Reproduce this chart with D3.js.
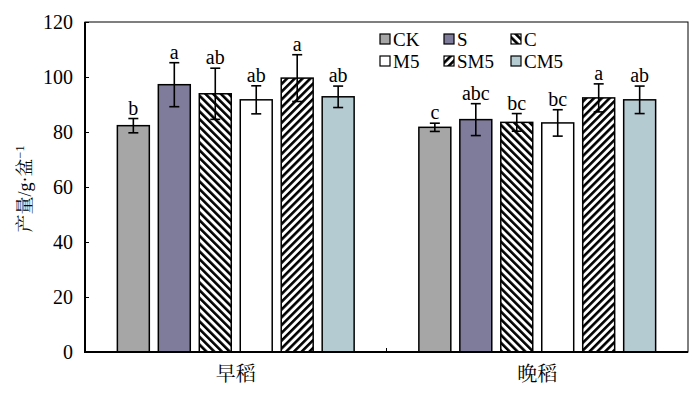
<!DOCTYPE html>
<meta charset="utf-8">
<script src="https://d3js.org/d3.v7.min.js"></script>
<body style="margin:0;background:#fff">
<svg width="700" height="393"></svg>
<script>
  // data
  var seasons = ['早稻', '晚稻'];
  var treatments = ['CK', 'S', 'C', 'M5', 'SM5', 'CM5'];
  var early = [82.3, 97.2, 93.9, 91.7, 99.6, 92.8];
  var earlyErr = [2.6, 8.0, 9.3, 5.1, 8.5, 3.9];
  var earlyLetters = ['b', 'a', 'ab', 'ab', 'a', 'ab'];
  var late = [81.7, 84.5, 83.5, 83.3, 92.4, 91.7];
  var lateErr = [1.5, 5.8, 3.2, 4.8, 5.1, 5.0];
  var lateLetters = ['c', 'abc', 'bc', 'bc', 'a', 'ab'];
  var yTicks = [0, 20, 40, 60, 80, 100, 120];

  var fills = {CK: '#a6a6a6', S: '#7f7b9b', C: 'url(#hatchC)', M5: '#ffffff', SM5: 'url(#hatchSM)', CM5: '#b5cbd2'};

  var margin = {top: 22, right: 12, bottom: 41, left: 85},
    width = 700 - margin.left - margin.right,
    height = 393 - margin.top - margin.bottom;

  var svg = d3.select('svg');
  var defs = svg.append('defs');

  function hatch(id, angle) {
    var s = 5.5;
    var p = defs.append('pattern')
      .attr('id', id)
      .attr('patternUnits', 'userSpaceOnUse')
      .attr('width', s).attr('height', s)
      .attr('patternTransform', 'rotate(' + angle + ')');
    p.append('rect').attr('width', s).attr('height', s).attr('fill', '#fff');
    p.append('rect').attr('x', 0).attr('width', 2.6).attr('height', s).attr('fill', '#000');
  }
  hatch('hatchC', -45);
  hatch('hatchSM', 45);

  var g = svg.append('g').attr('transform', 'translate(' + margin.left + ',' + margin.top + ')');

  var x0 = d3.scaleBand().domain(seasons).range([0, width]);
  var x1 = d3.scaleBand().domain(treatments).range([0, x0.bandwidth()])
    .paddingInner(0.22).paddingOuter(0.79);
  var y = d3.scaleLinear().domain([0, 120]).range([height, 0]);

  var rows = [];
  seasons.forEach(function(s, i) {
    var vals = i === 0 ? early : late,
      errs = i === 0 ? earlyErr : lateErr,
      lets = i === 0 ? earlyLetters : lateLetters;
    treatments.forEach(function(t, j) {
      rows.push({season: s, t: t, v: vals[j], e: errs[j], l: lets[j]});
    });
  });

  var font = '"Liberation Serif", "Times New Roman", serif';
  var cjk = '"Noto Serif CJK SC", "Noto Sans CJK SC", serif';

  // bars
  g.selectAll('rect.bar').data(rows).enter().append('rect')
    .attr('class', 'bar')
    .attr('x', function(d) { return x0(d.season) + x1(d.t); })
    .attr('y', function(d) { return y(d.v); })
    .attr('width', x1.bandwidth())
    .attr('height', function(d) { return y(0) - y(d.v); })
    .attr('fill', function(d) { return fills[d.t]; })
    .attr('stroke', '#000').attr('stroke-width', 1.5);

  // error bars
  var eb = g.selectAll('g.err').data(rows).enter().append('g')
    .attr('transform', function(d) { return 'translate(' + (x0(d.season) + x1(d.t) + x1.bandwidth() / 2) + ',0)'; });
  eb.append('line')
    .attr('y1', function(d) { return y(d.v - d.e); })
    .attr('y2', function(d) { return y(d.v + d.e); });
  eb.append('line').attr('x1', -5).attr('x2', 5)
    .attr('y1', function(d) { return y(d.v + d.e); })
    .attr('y2', function(d) { return y(d.v + d.e); });
  eb.append('line').attr('x1', -5).attr('x2', 5)
    .attr('y1', function(d) { return y(d.v - d.e); })
    .attr('y2', function(d) { return y(d.v - d.e); });
  eb.selectAll('line').attr('stroke', '#000').attr('stroke-width', 1.6);

  eb.append('text')
    .attr('y', function(d) { return y(d.v + d.e) - 4; })
    .attr('text-anchor', 'middle')
    .attr('fill', '#000')
    .style('font-family', font).style('font-size', '20px')
    .text(function(d) { return d.l; });

  // axes
  var yAxis = g.append('g')
    .call(d3.axisLeft(y).tickValues(yTicks).tickSize(-4).tickPadding(12));
  yAxis.select('.domain').remove();
  yAxis.selectAll('text').style('font-family', font).style('font-size', '20px').attr('fill', '#000');
  yAxis.selectAll('line').attr('stroke-width', 1);

  var xAxis = g.append('g').attr('transform', 'translate(0,' + height + ')')
    .call(d3.axisBottom(x0).tickSize(0).tickPadding(15));
  xAxis.select('.domain').remove();
  xAxis.selectAll('text').style('font-family', cjk).style('font-size', '20px').attr('fill', '#000');

  // group separator tick
  g.append('line')
    .attr('x1', x0(seasons[1])).attr('x2', x0(seasons[1]))
    .attr('y1', height).attr('y2', height - 4)
    .attr('stroke', '#000').attr('stroke-width', 1);

  // frame
  g.append('rect').attr('width', width).attr('height', height)
    .attr('fill', 'none').attr('stroke', '#000').attr('stroke-width', 1);
  g.append('path')
    .attr('d', 'M0,0V' + height + 'H' + width)
    .attr('fill', 'none').attr('stroke', '#000').attr('stroke-width', 2);

  // y title
  var yt = svg.append('text')
    .attr('transform', 'translate(31,189) rotate(-90)')
    .attr('text-anchor', 'middle')
    .attr('fill', '#000')
    .style('font-size', '18px');
  yt.append('tspan').style('font-family', cjk).text('产量');
  yt.append('tspan').style('font-family', font).text('/g·');
  yt.append('tspan').style('font-family', cjk).text('盆');
  yt.append('tspan').style('font-family', font).attr('dy', -7).style('font-size', '12px').text('−1');

  // legend
  var legCols = [380, 444, 511], legRows = [39, 61];
  var leg = svg.selectAll('g.leg').data(treatments).enter().append('g')
    .attr('transform', function(d, i) { return 'translate(' + legCols[i % 3] + ',' + legRows[Math.floor(i / 3)] + ')'; });
  leg.append('rect')
    .attr('x', 0).attr('y', -5).attr('width', 10).attr('height', 10)
    .attr('fill', function(d) { return fills[d]; })
    .attr('stroke', '#000').attr('stroke-width', 1.2);
  leg.append('text')
    .attr('x', 13).attr('dy', '0.35em')
    .attr('fill', '#000')
    .style('font-family', font).style('font-size', '19px')
    .text(function(d) { return d; });
</script>
</body>
